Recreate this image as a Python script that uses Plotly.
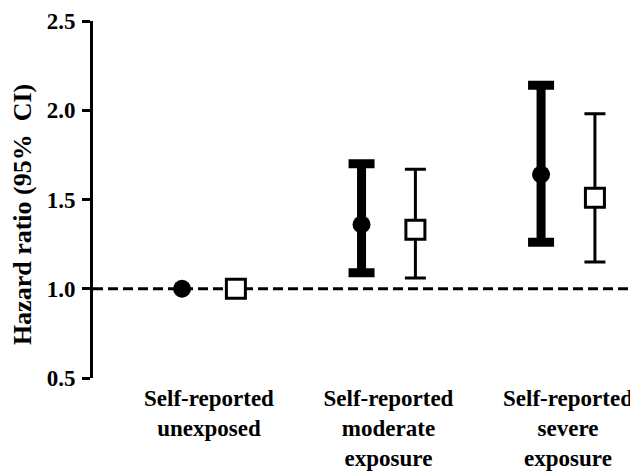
import plotly.graph_objects as go

categories = ["Self-reported<br>unexposed", "Self-reported<br>moderate<br>exposure", "Self-reported<br>severe<br>exposure"]
cat_pos = [0, 1, 2]

# filled circles series
hr_a = [1.00, 1.36, 1.64]
lo_a = [None, 1.09, 1.26]
hi_a = [None, 1.70, 2.14]

# open squares series
hr_b = [1.00, 1.33, 1.51]
lo_b = [None, 1.06, 1.15]
hi_b = [None, 1.67, 1.98]

y_ticks = [0.5, 1.0, 1.5, 2.0, 2.5]
y_ticktext = ["0.5", "1.0", "1.5", "2.0", "2.5"]
y_title = "Hazard ratio (95%  CI)"

offset = 0.15
FONT = "Liberation Serif"


def ci_subset(xs, vals, lo, hi):
    xx, yy, up, dn = [], [], [], []
    for x, v, l, h in zip(xs, vals, lo, hi):
        if l is None or h is None:
            continue
        xx.append(x)
        yy.append(v)
        up.append(h - v)
        dn.append(v - l)
    return xx, yy, up, dn


xa = [c - offset for c in cat_pos]
xb = [c + offset for c in cat_pos]

fig = go.Figure()

# error bars (only where a CI exists)
ex, ey, eu, ed = ci_subset(xa, hr_a, lo_a, hi_a)
fig.add_trace(go.Scatter(
    x=ex, y=ey, mode="markers", marker=dict(size=1, color="rgba(0,0,0,0)"),
    error_y=dict(type="data", symmetric=False, array=eu, arrayminus=ed,
                 thickness=9, width=13, color="black"),
    showlegend=False, hoverinfo="skip",
))
ex, ey, eu, ed = ci_subset(xb, hr_b, lo_b, hi_b)
fig.add_trace(go.Scatter(
    x=ex, y=ey, mode="markers", marker=dict(size=1, color="rgba(0,0,0,0)"),
    error_y=dict(type="data", symmetric=False, array=eu, arrayminus=ed,
                 thickness=3, width=10.5, color="black"),
    showlegend=False, hoverinfo="skip",
))

# point estimates
fig.add_trace(go.Scatter(
    x=xa, y=hr_a, mode="markers",
    marker=dict(symbol="circle", size=18, color="black"),
    showlegend=False,
))
fig.add_trace(go.Scatter(
    x=xb, y=hr_b, mode="markers",
    marker=dict(symbol="square", size=19, color="white", line=dict(color="black", width=3)),
    showlegend=False,
))

fig.add_shape(type="line", xref="paper", yref="y", x0=0, x1=1, y0=1.0, y1=1.0,
              line=dict(color="black", width=3, dash="10px,5px"), layer="below")

fig.add_annotation(text=y_title, textangle=-90, xref="paper", yref="paper",
                   x=-0.1303, y=0.459, xanchor="center", yanchor="middle",
                   showarrow=False,
                   font=dict(family=FONT, size=26, weight="bold", color="black"))

fig.update_layout(
    width=630, height=463,
    margin=dict(l=85, r=0, t=13, b=93),
    plot_bgcolor="white", paper_bgcolor="white",
    font=dict(family=FONT, color="black"),
    xaxis=dict(range=[-0.646, 2.39], tickvals=cat_pos, ticktext=categories,
               showline=False, showgrid=False, zeroline=False, ticks="",
               tickfont=dict(family=FONT, size=23, weight="bold", color="black"),
               ticklabelstandoff=4),
    yaxis=dict(range=[0.5, 2.5], tickvals=y_ticks, ticktext=y_ticktext,
               showline=True, linecolor="black", linewidth=3,
               ticks="outside", ticklen=8, tickwidth=3, tickcolor="black",
               showgrid=False, zeroline=False,
               tickfont=dict(family=FONT, size=23, weight="bold", color="black"),
               ticklabelstandoff=2),
)

fig.write_html("out.html")
